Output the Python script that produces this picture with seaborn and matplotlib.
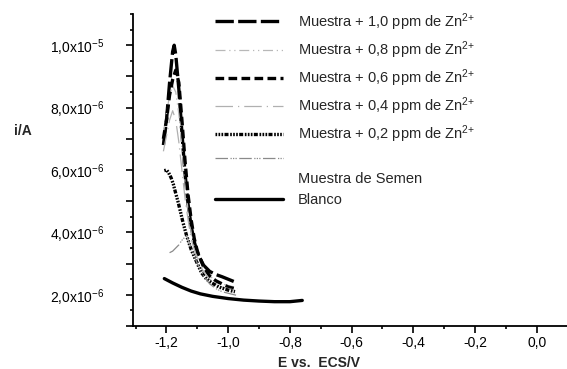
import matplotlib
matplotlib.use("Agg")
import matplotlib.pyplot as plt
import seaborn as sns
import pandas as pd
from matplotlib.lines import Line2D
from matplotlib.ticker import FixedLocator, FixedFormatter, MultipleLocator

# ---- data (E in V vs ECS, i in microampere) ----
e_10 = [-1.21, -1.20, -1.19, -1.18, -1.175, -1.17, -1.16, -1.15, -1.14, -1.13, -1.12, -1.11, -1.10, -1.08, -1.06, -1.04, -1.02, -1.00, -0.98, -0.97]
i_10 = [6.8, 7.6, 8.8, 9.8, 10.0, 9.7, 8.6, 7.2, 5.9, 4.9, 4.2, 3.7, 3.35, 2.95, 2.75, 2.65, 2.58, 2.50, 2.42, 2.38]

e_08 = [-1.21, -1.20, -1.19, -1.18, -1.17, -1.16, -1.15, -1.14, -1.13, -1.12, -1.11, -1.10, -1.08, -1.06, -1.04, -1.02, -1.00, -0.98, -0.97]
i_08 = [7.2, 7.8, 8.4, 8.7, 8.5, 7.8, 6.7, 5.6, 4.7, 4.0, 3.5, 3.2, 2.85, 2.6, 2.45, 2.35, 2.3, 2.25, 2.2]

e_06 = [-1.21, -1.20, -1.19, -1.18, -1.17, -1.16, -1.15, -1.14, -1.13, -1.12, -1.11, -1.10, -1.08, -1.06, -1.04, -1.02, -1.00, -0.98, -0.97]
i_06 = [7.0, 7.6, 8.4, 8.9, 9.2, 8.8, 7.6, 6.3, 5.2, 4.4, 3.8, 3.4, 2.9, 2.6, 2.45, 2.35, 2.25, 2.2, 2.15]

e_04 = [-1.21, -1.20, -1.19, -1.18, -1.17, -1.16, -1.15, -1.14, -1.13, -1.12, -1.10, -1.08, -1.06, -1.04, -1.02, -1.00, -0.98]
i_04 = [6.6, 7.1, 7.6, 7.9, 7.6, 6.9, 6.0, 5.1, 4.4, 3.8, 3.1, 2.75, 2.5, 2.35, 2.25, 2.2, 2.15]

e_02 = [-1.207, -1.20, -1.194, -1.185, -1.178, -1.17, -1.162, -1.146, -1.135, -1.12, -1.10, -1.086, -1.07, -1.053, -1.03, -1.00, -0.978]
i_02 = [5.98, 6.0, 5.93, 5.75, 5.55, 5.25, 4.96, 4.3, 3.9, 3.45, 3.0, 2.7, 2.5, 2.38, 2.25, 2.15, 2.1]

e_semen = [-1.19, -1.18, -1.17, -1.16, -1.15, -1.14, -1.135, -1.12, -1.10, -1.08, -1.06, -1.04, -1.02, -1.00, -0.98, -0.97]
i_semen = [3.35, 3.4, 3.5, 3.6, 3.75, 3.85, 3.9, 3.5, 3.0, 2.6, 2.35, 2.2, 2.1, 2.05, 2.0, 1.98]

e_blanco = [-1.207, -1.18, -1.15, -1.12, -1.09, -1.05, -1.00, -0.95, -0.90, -0.85, -0.80, -0.76]
i_blanco = [2.52, 2.38, 2.24, 2.12, 2.03, 1.95, 1.88, 1.83, 1.80, 1.78, 1.78, 1.82]

labels = [
    "Muestra + 1,0 ppm de Zn$^{2{+}}$",
    "Muestra + 0,8 ppm de Zn$^{2{+}}$",
    "Muestra + 0,6 ppm de Zn$^{2{+}}$",
    "Muestra + 0,4 ppm de Zn$^{2{+}}$",
    "Muestra + 0,2 ppm de Zn$^{2{+}}$",
    "Muestra de Semen",
    "Blanco",
]

x_ticks = [-1.2, -1.0, -0.8, -0.6, -0.4, -0.2, 0.0]
x_ticklabels = ["-1,2", "-1,0", "-0,8", "-0,6", "-0,4", "-0,2", "0,0"]
y_ticks = [1, 2, 3, 4, 5, 6, 7, 8, 9, 10]
y_ticklabels = ["", "2,0x10$^{-6}$", "", "4,0x10$^{-6}$", "", "6,0x10$^{-6}$", "",
                "8,0x10$^{-6}$", "", "1,0x10$^{-5}$"]

# ---- style ----
sns.set_theme(style="ticks")
plt.rcParams["font.family"] = ["Liberation Sans", "DejaVu Sans"]
plt.rcParams["mathtext.fontset"] = "custom"
plt.rcParams["mathtext.rm"] = "Liberation Sans"
plt.rcParams["mathtext.default"] = "regular"

fig = plt.figure(figsize=(5.67, 3.69), dpi=100)
ax = fig.add_axes([0.2354, 0.1165, 0.7646, 0.8455])

series = [
    (e_10, i_10, dict(color="black", lw=2.4, linestyle=(0, (5.5, 1.3)))),
    (e_08, i_08, dict(color="#b8b8b8", lw=0.9, linestyle=(0, (8, 3, 1, 3, 1, 3)))),
    (e_06, i_06, dict(color="black", lw=2.4, linestyle=(0, (2.6, 1.3)))),
    (e_04, i_04, dict(color="#b0b0b0", lw=0.9, linestyle=(0, (14, 4, 1, 4)))),
    (e_02, i_02, dict(color="black", lw=2.4, linestyle=(0, (0.5, 0.4, 0.5, 0.4, 0.5, 0.4, 1.2, 0.5)))),
    (e_semen, i_semen, dict(color="#8a8a8a", lw=0.9, linestyle=(0, (10, 2, 1, 1, 1, 1, 1, 2)))),
    (e_blanco, i_blanco, dict(color="black", lw=2.4, linestyle="-")),
]

for (e, i, kw), lab in zip(series, labels):
    df = pd.DataFrame({"E": e, "i": i})
    sns.lineplot(data=df, x="E", y="i", ax=ax, sort=False, estimator=None,
                 label=lab, **kw)

ax.set_xlim(-1.307, 0.098)
ax.set_ylim(1.0, 11.0)

ax.xaxis.set_major_locator(FixedLocator(x_ticks))
ax.xaxis.set_major_formatter(FixedFormatter(x_ticklabels))
ax.xaxis.set_minor_locator(MultipleLocator(0.1))
ax.yaxis.set_major_locator(FixedLocator(y_ticks))
ax.yaxis.set_major_formatter(FixedFormatter(y_ticklabels))
ax.yaxis.set_minor_locator(MultipleLocator(0.5))

for s in ["top", "right"]:
    ax.spines[s].set_visible(False)
for s in ["left", "bottom"]:
    ax.spines[s].set_linewidth(1.3)
    ax.spines[s].set_color("black")

ax.tick_params(axis="both", which="major", direction="out", length=5, width=1.2,
               colors="black", labelsize=10)
ax.tick_params(axis="both", which="minor", direction="out", length=2.5, width=1.2,
               colors="black")
ax.tick_params(axis="y", which="major", pad=16)
ax.tick_params(axis="x", which="major", pad=2.5)

ax.set_xlabel("E vs.  ECS/V", fontsize=10, fontweight="bold", va="center")
ax.set_ylabel("i/A", fontsize=10, fontweight="bold", rotation=0, va="center")
ax.xaxis.set_label_coords(0.427, -0.119)
ax.yaxis.set_label_coords(-0.255, 0.625)

# legend: the Semen text sits one row below its line sample, as in the original
handles, labs = ax.get_legend_handles_labels()
spacer = Line2D([], [], linestyle="none")
handles = handles[:5] + [handles[5], spacer] + handles[6:]
labs = labs[:5] + [" ", labs[5]] + labs[6:]

leg = ax.legend(handles, labs, loc="upper left", bbox_to_anchor=(0.188, 1.01),
                frameon=False, fontsize=10.5, handlelength=4.66, handletextpad=1.0,
                labelspacing=0.45, borderpad=0, borderaxespad=0)

fig.savefig("out.png", dpi=100)
